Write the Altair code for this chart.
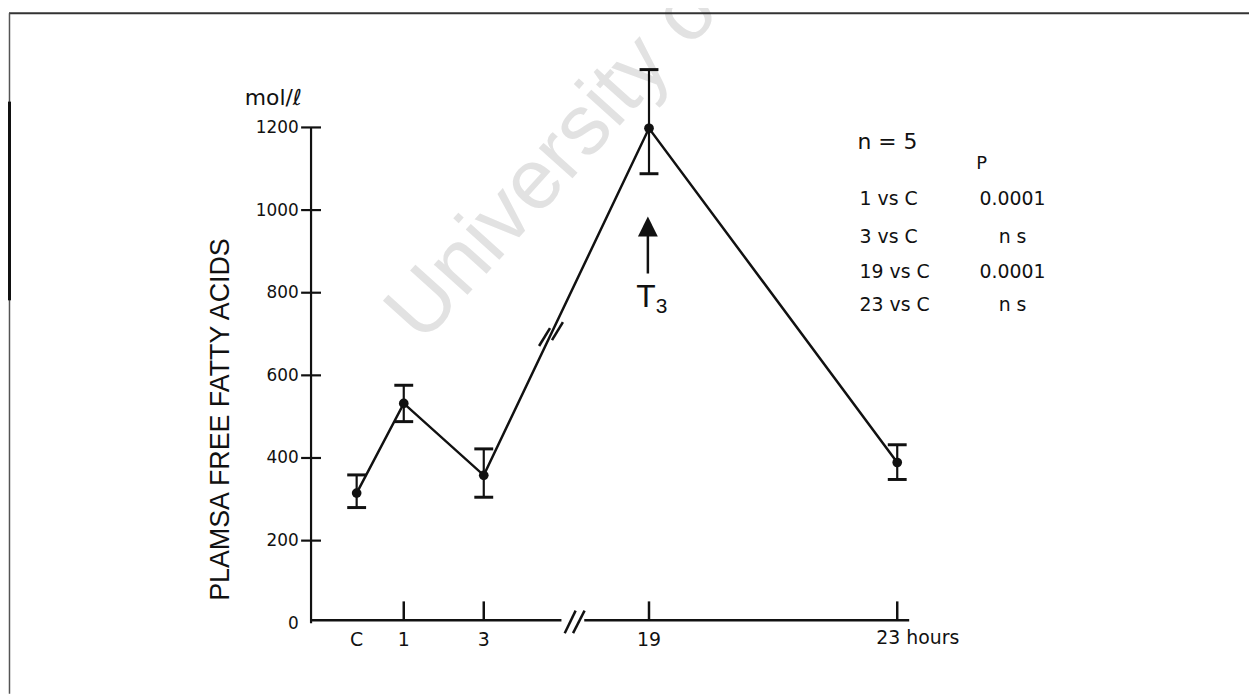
import altair as alt
import pandas as pd

# ---- data ----
categories = ["C", "1", "3", "19", "23"]
x_pos = [0.61, 1.24, 2.31, 4.52, 7.84]          # place on the broken time axis
means = [315, 532, 358, 1198, 389]
lower = [280, 488, 305, 1088, 348]
upper = [359, 576, 422, 1340, 432]
y_ticks = [0, 200, 400, 600, 800, 1000, 1200]
x_labels = ["C", "1", "3", "19", "23 hours"]
x_ticked = [False, True, True, True, True]
axis_seg_start = [0.0, 3.654]
axis_seg_end = [3.349, 8.0]
stat_labels = ["1 vs C", "3 vs C", "19 vs C", "23 vs C"]
p_values = ["0.0001", "n s", "0.0001", "n s"]

# ---- layout ----
ORIGIN_X, ORIGIN_Y = 313, 126   # page position of plot area's top-left
W, H = 602, 499
PAD_L, PAD_T = ORIGIN_X - 8, ORIGIN_Y - 8
PAD_R = 1249 - PAD_L - W
PAD_B = 688 - PAD_T - H


def px(x):
    return x - ORIGIN_X


def py(y):
    return y - ORIGIN_Y


INK = "#111111"
FONT = "DejaVu Sans"
xs = alt.Scale(domain=[0, 8], nice=False, zero=False)
ys = alt.Scale(domain=[0, 1200], nice=False, zero=False)
y_axis = alt.Axis(values=y_ticks, format="d", domain=False, ticks=False, tickSize=0, grid=False,
                  labelPadding=13, labelFont=FONT, labelFontSize=17, labelColor=INK,
                  labelFlush=False, labelOverlap=False, title=None)

df = pd.DataFrame({"cat": categories, "pos": x_pos, "mean": means,
                   "lo": lower, "hi": upper, "label": x_labels, "ticked": x_ticked})
one = pd.DataFrame({"a": [0]})


def seg(x1, y1, x2, y2, w, color=INK):
    return alt.Chart(one).mark_rule(strokeWidth=w, color=color).encode(
        x=alt.value(px(x1)), y=alt.value(py(y1)),
        x2=alt.value(px(x2)), y2=alt.value(py(y2)))


def label(text, x, y, size, font=FONT, align="left", baseline="middle", angle=0, color=INK):
    return alt.Chart(one).mark_text(text=text, font=font, fontSize=size, align=align,
                                    baseline=baseline, angle=angle, color=color).encode(
        x=alt.value(px(x)), y=alt.value(py(y)))


layers = []

# watermark
layers.append(label("University of Cape Town", 425, 345, 86, font="Liberation Sans",
                    baseline="alphabetic", angle=312, color="#e2e2e2"))

# frame
layers.append(seg(9, 11, 1257, 11, 2, "#333333"))
layers.append(seg(9.5, 11, 9.5, 696, 1.5, "#555555"))
layers.append(seg(9.5, 100, 9.5, 300, 3, "#111111"))

# y axis line and crossing ticks
layers.append(alt.Chart(pd.DataFrame({"s": [y_ticks[0]], "e": [y_ticks[-1]]})).mark_rule(
    strokeWidth=2.2, color=INK).encode(
    x=alt.value(0), y=alt.Y("s:Q", scale=ys, axis=y_axis), y2="e:Q"))
layers.append(alt.Chart(pd.DataFrame({"v": y_ticks[1:]})).mark_tick(
    orient="horizontal", size=20, thickness=2.2, color=INK, opacity=1).encode(
    x=alt.value(0), y=alt.Y("v:Q", scale=ys, axis=y_axis)))

# broken x axis
layers.append(alt.Chart(pd.DataFrame({"s": axis_seg_start, "e": axis_seg_end})).mark_rule(
    strokeWidth=2.5, color=INK).encode(
    x=alt.X("s:Q", scale=xs, axis=None), x2="e:Q", y=alt.value(py(622))))
layers.append(seg(568.3, 635, 579.3, 612.3, 2.5))
layers.append(seg(576.7, 635, 588.3, 612.3, 2.5))

# x ticks (upward)
layers.append(alt.Chart(df[df["ticked"]]).mark_rule(strokeWidth=2.5, color=INK).encode(
    x=alt.X("pos:Q", scale=xs, axis=None), y=alt.value(py(622)), y2=alt.value(py(603))))

# x labels
layers.append(alt.Chart(df.iloc[:-1]).mark_text(font=FONT, fontSize=19, color=INK,
                                                align="center", baseline="middle").encode(
    x=alt.X("pos:Q", scale=xs, axis=None), y=alt.value(py(642)), text="label:N"))
layers.append(alt.Chart(df.iloc[-1:]).mark_text(font=FONT, fontSize=19, color=INK,
                                                align="left", baseline="middle", dx=-21).encode(
    x=alt.X("pos:Q", scale=xs, axis=None), y=alt.value(py(640)), text="label:N"))

# break marks on the connecting line
layers.append(seg(542.5, 346, 553.5, 328, 2.6))
layers.append(seg(555.5, 340, 566.5, 322, 2.6))

# error bars
layers.append(alt.Chart(df).mark_rule(strokeWidth=2.2, color=INK).encode(
    x=alt.X("pos:Q", scale=xs, axis=None),
    y=alt.Y("lo:Q", scale=ys, axis=y_axis), y2="hi:Q"))
layers.append(alt.Chart(df).mark_tick(orient="horizontal", size=19, thickness=3, color=INK,
                                      opacity=1).encode(
    x=alt.X("pos:Q", scale=xs, axis=None), y=alt.Y("lo:Q", scale=ys, axis=y_axis)))
layers.append(alt.Chart(df).mark_tick(orient="horizontal", size=19, thickness=3, color=INK,
                                      opacity=1).encode(
    x=alt.X("pos:Q", scale=xs, axis=None), y=alt.Y("hi:Q", scale=ys, axis=y_axis)))

# mean line and points
layers.append(alt.Chart(df).mark_line(strokeWidth=2.5, color=INK).encode(
    x=alt.X("pos:Q", scale=xs, axis=None),
    y=alt.Y("mean:Q", scale=ys, axis=y_axis), order="pos:Q"))
layers.append(alt.Chart(df).mark_circle(size=95, color=INK, opacity=1).encode(
    x=alt.X("pos:Q", scale=xs, axis=None),
    y=alt.Y("mean:Q", scale=ys, axis=y_axis)))

# axis texts
layers.append(label("PLAMSA FREE FATTY ACIDS", 222, 420, 27, font="Liberation Sans",
                    align="center", angle=270))
layers.append(label("mol/\u2113", 275, 96, 22, align="center"))

# T3 arrow
layers.append(seg(652, 234, 652, 273, 2.5))
layers.append(alt.Chart(one).mark_point(shape="M0,-1L1,1L-1,1Z", size=400, filled=True,
                                        fill=INK, strokeWidth=0, opacity=1).encode(
    x=alt.value(px(652)), y=alt.value(py(225.7))))
layers.append(label("T", 650, 307, 32, font="Liberation Sans", align="center",
                    baseline="alphabetic"))
layers.append(label("3", 660, 313, 21, font="Liberation Sans", align="left",
                    baseline="alphabetic"))

# statistics block
layers.append(label("n = 5", 863, 141, 22))
layers.append(label("P", 988, 163, 18, align="center"))
stats = pd.DataFrame({"label": stat_labels, "p": p_values,
                      "ypix": [py(v) for v in [198, 236, 272, 305]]})
layers.append(alt.Chart(stats).mark_text(font=FONT, fontSize=19, color=INK, align="left",
                                         baseline="middle").encode(
    x=alt.value(px(865)), y=alt.Y("ypix:Q", scale=None, axis=None), text="label:N"))
layers.append(alt.Chart(stats).mark_text(font=FONT, fontSize=19, color=INK, align="center",
                                         baseline="middle").encode(
    x=alt.value(px(1019)), y=alt.Y("ypix:Q", scale=None, axis=None), text="p:N"))

chart = alt.layer(*layers).properties(
    width=W, height=H,
    padding={"left": PAD_L, "top": PAD_T, "right": PAD_R, "bottom": PAD_B},
    autosize=alt.AutoSizeParams(type="none"),
    background="white",
).configure_view(stroke=None)

chart.save("out.html", embed_options={"renderer": "svg", "actions": False})
